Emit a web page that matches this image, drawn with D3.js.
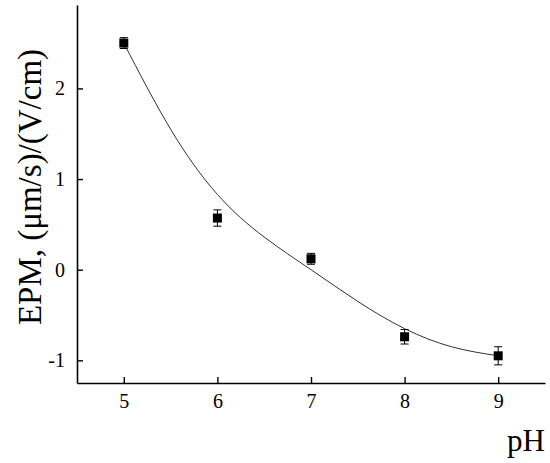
<!DOCTYPE html>
<html><head><meta charset="utf-8">
<script src="https://cdn.jsdelivr.net/npm/d3@7/dist/d3.min.js"></script>
<style>body{margin:0;background:#fff}svg{display:block}text{font-family:"Liberation Serif","Times New Roman",serif;fill:#000}</style>
</head><body><svg id="c" width="550" height="463"></svg>
<script>
const pH = [5, 6, 7, 8, 9];
const epm = [2.50, 0.57, 0.12, -0.74, -0.95];
const err = [0.06, 0.09, 0.06, 0.08, 0.10];
const fitX = [5.0, 5.5, 6.0, 6.5, 7.0, 7.5, 8.0, 8.5, 9.0];
const fitY = [2.50, 1.55, 0.83, 0.36, 0.00, -0.35, -0.65, -0.85, -0.95];
const xTicks = [5, 6, 7, 8, 9];
const yTicks = [-1, 0, 1, 2];

const svg = d3.select("#c");
const L = 77, R = 545, T = 5, B = 383;
const x = d3.scaleLinear().domain([4.5, 9.5]).range([L, R]);
const y = d3.scaleLinear().domain([-1.25, 2.92]).range([B, T]);

const xa = svg.append("g").attr("transform", `translate(0,${B})`)
  .call(d3.axisBottom(x).tickValues(xTicks).tickSizeInner(-6).tickSizeOuter(0).tickPadding(11).tickFormat(d => String(d)));
const ya = svg.append("g").attr("transform", `translate(${L},0)`)
  .call(d3.axisLeft(y).tickValues(yTicks).tickSizeInner(-6).tickSizeOuter(0).tickPadding(12).tickFormat(d => String(d)));
[xa, ya].forEach(a => {
  a.select(".domain").attr("stroke", "#000").attr("stroke-width", 1.6);
  a.selectAll(".tick line").attr("stroke", "#000").attr("stroke-width", 1.4);
  a.selectAll("text").style("font-size", "20px").attr("fill", "#000");
});

const line = d3.line().x(d => x(d[0])).y(d => y(d[1])).curve(d3.curveNatural);
svg.append("path").datum(fitX.map((v, i) => [v, fitY[i]]))
  .attr("d", line).attr("fill", "none").attr("stroke", "#333").attr("stroke-width", 1);

const pts = pH.map((v, i) => ({x: v, y: epm[i], e: err[i]}));
const g = svg.append("g");
pts.forEach(p => {
  const cx = x(p.x);
  g.append("line").attr("x1", cx).attr("x2", cx).attr("y1", y(p.y + p.e)).attr("y2", y(p.y - p.e)).attr("stroke", "#000").attr("stroke-width", 1);
  [p.y + p.e, p.y - p.e].forEach(v => g.append("line").attr("x1", cx - 4).attr("x2", cx + 4).attr("y1", y(v)).attr("y2", y(v)).attr("stroke", "#000").attr("stroke-width", 1));
  g.append("rect").attr("x", cx - 4.5).attr("y", y(p.y) - 4.5).attr("width", 9).attr("height", 9).attr("fill", "#000");
});

svg.append("text").attr("transform", `translate(41,187) rotate(-90)`)
  .attr("text-anchor", "middle").style("font-size", "33px").text("EPM, (μm/s)/(V/cm)");
svg.append("text").attr("x", 545).attr("y", 451).attr("text-anchor", "end").style("font-size", "31px").text("pH");
</script></body></html>
